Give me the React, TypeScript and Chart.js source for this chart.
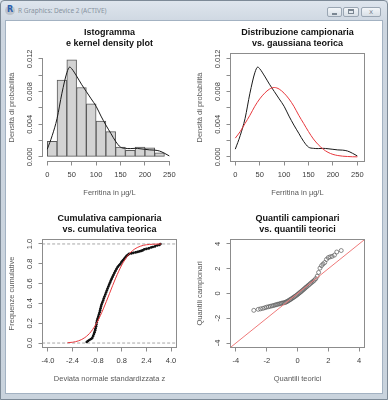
import React, { useEffect, useRef } from "react";
import { Chart, registerables } from "chart.js";

Chart.register(...registerables);

// ---------------- Data ----------------
// Panel 1: histogram of ferritin (density scale)
const histBreaks = [0, 20, 40, 60, 80, 100, 120, 140, 160, 180, 200, 220, 240];
const histDensity = [0.0019, 0.0094, 0.0119, 0.0085, 0.0065, 0.0044, 0.0031, 0.0012, 0.0008, 0.0012, 0.0011, 0.0005];

// Kernel density estimate (panels 1 and 2)
const kdeX = [0, 10, 20, 30, 40, 46, 50, 60, 70, 80, 90, 100, 110, 120, 130, 140, 150, 160, 170, 180, 190, 200, 210, 220, 230, 240, 250];
const kdeY = [0.00095, 0.0026, 0.0047, 0.0078, 0.0103, 0.011, 0.0108, 0.0099, 0.0089, 0.008, 0.0071, 0.0062, 0.005, 0.0039, 0.0029, 0.0019, 0.0012, 0.00105, 0.00102, 0.00105, 0.001, 0.00093, 0.00086, 0.00083, 0.00072, 0.00045, 0.00012];

// Theoretical gaussian density (panel 2, red)
const gaussX = [0, 10, 20, 30, 40, 50, 60, 70, 80, 90, 100, 110, 120, 130, 140, 150, 160, 170, 180, 190, 200, 210, 220, 230, 240, 250];
const gaussY = [0.0023, 0.0031, 0.0041, 0.0051, 0.0062, 0.0071, 0.0078, 0.0083, 0.0085, 0.0083, 0.0078, 0.0071, 0.0062, 0.0051, 0.0041, 0.0031, 0.0022, 0.0015, 0.00095, 0.00056, 0.00031, 0.00017, 0.00009, 0.00005, 0.00002, 0.00001];

const ferritinTicks = [0, 50, 100, 150, 200, 250];
const ferritinTickLabels = ["0", "50", "100", "150", "200", "250"];
const densTicks = [0, 0.002, 0.004, 0.006, 0.008, 0.01, 0.012];
const densTickLabels = ["0.000", "", "0.004", "", "0.008", "", "0.012"];

// Panel 3: empirical cumulative distribution of standardized values
const ecdfZ = [-1.48, -1.4, -1.3, -1.2, -1.12, -1.06, -1.01, -0.97, -0.93, -0.9, -0.87, -0.85, -0.83, -0.8, -0.76, -0.72, -0.68, -0.64, -0.61, -0.58, -0.55, -0.51, -0.46, -0.41, -0.37, -0.32, -0.27, -0.22, -0.17, -0.12, -0.07, -0.02, 0.04, 0.09, 0.15, 0.21, 0.27, 0.33, 0.4, 0.47, 0.55, 0.63, 0.72, 0.8, 0.88, 0.96, 1.04, 1.12, 1.2, 1.28, 1.42, 1.55, 1.7, 1.83, 1.95, 2.06, 2.15, 2.26, 2.4, 2.55, 2.7, 2.81, 2.95, 3.1, 3.24, 3.31];
const ecdfP = [0.01, 0.02, 0.03, 0.04, 0.05, 0.07, 0.09, 0.11, 0.13, 0.15, 0.17, 0.19, 0.21, 0.23, 0.25, 0.27, 0.29, 0.31, 0.33, 0.35, 0.37, 0.39, 0.41, 0.43, 0.45, 0.47, 0.49, 0.51, 0.53, 0.55, 0.57, 0.59, 0.61, 0.63, 0.65, 0.67, 0.69, 0.71, 0.73, 0.75, 0.77, 0.785, 0.8, 0.82, 0.835, 0.85, 0.865, 0.88, 0.89, 0.9, 0.905, 0.91, 0.915, 0.92, 0.925, 0.93, 0.935, 0.945, 0.95, 0.955, 0.965, 0.97, 0.975, 0.985, 0.99, 1.0];
// Theoretical cumulative (red)
const pnormZ = [-2.73, -2.4, -2.0, -1.6, -1.2, -0.8, -0.4, 0, 0.4, 0.8, 1.2, 1.6, 2.0, 2.4, 2.8, 3.35];
const pnormP = [0.003, 0.008, 0.023, 0.055, 0.115, 0.212, 0.345, 0.5, 0.655, 0.788, 0.885, 0.945, 0.977, 0.992, 0.997, 1.0];
const cumRefLevels = [0, 1];
const cumXTicks = [-4, -2.4, -0.8, 0.8, 2.4, 4];
const cumXTickLabels = ["-4.0", "-2.4", "-0.8", "0.8", "2.4", "4.0"];
const cumYTicks = [0, 0.2, 0.4, 0.6, 0.8, 1];
const cumYTickLabels = ["0.0", "0.2", "0.4", "0.6", "0.8", "1.0"];

// Panel 4: normal Q-Q plot
const qqTheo = [-2.84, -2.55, -2.4, -2.25, -2.12, -2.0, -1.88, -1.77, -1.66, -1.56, -1.46, -1.37, -1.28, -1.19, -1.1, -1.02, -0.94, -0.86, -0.78, -0.71, -0.64, -0.57, -0.5, -0.43, -0.36, -0.29, -0.22, -0.15, -0.08, -0.01, 0.06, 0.13, 0.2, 0.27, 0.34, 0.41, 0.48, 0.55, 0.62, 0.7, 0.78, 0.86, 0.94, 1.02, 1.1, 1.19, 1.28, 1.37, 1.46, 1.56, 1.66, 1.77, 1.88, 2.0, 2.12, 2.25, 2.4, 2.55, 2.84];
const qqSample = [-1.36, -1.28, -1.24, -1.2, -1.15, -1.1, -1.07, -1.03, -1.0, -0.97, -0.93, -0.9, -0.87, -0.84, -0.81, -0.78, -0.76, -0.74, -0.71, -0.67, -0.62, -0.57, -0.51, -0.46, -0.4, -0.34, -0.28, -0.22, -0.16, -0.09, -0.02, 0.05, 0.12, 0.19, 0.27, 0.34, 0.42, 0.5, 0.57, 0.66, 0.74, 0.83, 0.91, 0.99, 1.08, 1.2, 1.4, 1.7, 2.05, 2.25, 2.38, 2.5, 2.75, 2.9, 2.96, 3.0, 3.1, 3.35, 3.47];
const qqLineX = [-5, 5];
const qqLineY = [-5, 5];
const qqTicks = [-4, -2, 0, 2, 4];
const qqTickLabels = ["-4", "-2", "0", "2", "4"];

// axis limits (R's 4% extended ranges)
const ferritinMin = -8.8;
const ferritinMax = 263.7;
const densMin = -0.0005;
const densMax = 0.0126;
const zMin = -4.32;
const zMax = 4.32;
const pMin = -0.04;
const pMax = 1.04;

// ---------------- Styling / layout ----------------
const FONT = '"Liberation Sans", Arial, Helvetica, sans-serif';
const AX = "#8c8c8c";
const TXT = "#3a3a3a";
const LAB = "#5a5a5a";
const TICK_FS = 7.5;
const PANEL_W = 188;
const PANEL_H = 186;
const PLOT_LEFT = 37;
const PLOT_RIGHT_GAP = 18;
const XAXIS_H = 46;
const TICK_LEN = 4.5;
const LABEL_OFFSET = 13.5;

function widestLabel(labels: string[]): number {
  const ctx = document.createElement("canvas").getContext("2d");
  if (!ctx) return 0;
  ctx.font = `${TICK_FS}px ${FONT}`;
  return labels.reduce((m, l) => Math.max(m, ctx.measureText(l).width), 0);
}

function xAxis(min: number, max: number, ticks: number[], labels: string[], title: string) {
  return {
    type: "linear",
    position: "bottom",
    min,
    max,
    bounds: "data",
    offset: false,
    afterBuildTicks: (s: any) => {
      s.ticks = ticks.map((v) => ({ value: v }));
    },
    afterFit: (s: any) => {
      s.height = XAXIS_H;
      s.paddingLeft = 0;
      s.paddingRight = 0;
    },
    grid: { display: true, drawOnChartArea: false, drawTicks: true, tickLength: TICK_LEN, color: AX, lineWidth: 1, offset: false },
    border: { display: false },
    ticks: {
      autoSkip: false,
      maxRotation: 0,
      minRotation: 0,
      padding: 5,
      color: TXT,
      font: { family: FONT, size: TICK_FS },
      callback: (_v: any, i: number) => labels[i],
    },
    title: { display: true, text: title, color: LAB, font: { family: FONT, size: TICK_FS }, padding: { top: 0, bottom: 10 } },
  };
}

function yAxis(min: number, max: number, ticks: number[], labels: string[], title: string) {
  const widest = widestLabel(labels);
  return {
    type: "linear",
    position: "left",
    min,
    max,
    bounds: "data",
    afterBuildTicks: (s: any) => {
      s.ticks = ticks.map((v) => ({ value: v }));
    },
    afterFit: (s: any) => {
      s.width = PLOT_LEFT;
      s.paddingTop = 0;
      s.paddingBottom = 0;
    },
    grid: { display: true, drawOnChartArea: false, drawTicks: true, tickLength: TICK_LEN, color: AX, lineWidth: 1 },
    border: { display: false },
    ticks: {
      autoSkip: false,
      minRotation: 90,
      maxRotation: 90,
      crossAlign: "center",
      padding: LABEL_OFFSET - TICK_LEN - widest / 2,
      color: TXT,
      font: { family: FONT, size: TICK_FS },
      callback: (_v: any, i: number) => labels[i],
    },
    title: { display: true, text: title, color: LAB, font: { family: FONT, size: TICK_FS }, padding: { top: 1, bottom: 0 } },
  };
}

// R-like frame: full box, or axis lines spanning first to last tick
const rFrame = {
  id: "rFrame",
  afterDatasetsDraw(chart: any, _args: any, opts: any) {
    const { ctx, chartArea: a } = chart;
    ctx.save();
    ctx.strokeStyle = AX;
    ctx.lineWidth = 1;
    const x0 = Math.round(a.left) - 0.5;
    const y1 = Math.round(a.bottom) + 0.5;
    if (opts && opts.box) {
      const y0 = Math.round(a.top) - 0.5;
      const x1 = Math.round(a.right) + 0.5;
      ctx.strokeRect(x0, y0, x1 - x0, y1 - y0);
    } else {
      const xs = chart.scales.x;
      const ys = chart.scales.y;
      const xt = xs.ticks;
      const yt = ys.ticks;
      ctx.beginPath();
      ctx.moveTo(xs.getPixelForValue(xt[0].value), y1);
      ctx.lineTo(xs.getPixelForValue(xt[xt.length - 1].value), y1);
      ctx.moveTo(x0, ys.getPixelForValue(yt[0].value));
      ctx.lineTo(x0, ys.getPixelForValue(yt[yt.length - 1].value));
      ctx.stroke();
    }
    ctx.restore();
  },
};

function baseOptions(title: string[], x: any, y: any, box: boolean) {
  return {
    responsive: false,
    maintainAspectRatio: false,
    animation: false,
    devicePixelRatio: 1,
    events: [],
    layout: { padding: { left: 0, right: PLOT_RIGHT_GAP, top: 0, bottom: 0 } },
    scales: { x, y },
    plugins: {
      legend: { display: false },
      tooltip: { enabled: false },
      title: {
        display: true,
        text: title,
        fullSize: false,
        color: "#111111",
        font: { family: FONT, size: 9, weight: "bold", lineHeight: "11px" },
        padding: { top: 6.5, bottom: 4.5 },
      },
      rFrame: { box },
    },
  };
}

const pts = (xs: number[], ys: number[]) => xs.map((x, i) => ({ x, y: ys[i] }));

function histConfig() {
  const bars = histDensity.map((d, i) => ({ x: (histBreaks[i] + histBreaks[i + 1]) / 2, y: d }));
  return {
    type: "bar",
    data: {
      datasets: [
        { type: "line", data: pts(kdeX, kdeY), borderColor: "#1a1a1a", borderWidth: 1, pointRadius: 0, cubicInterpolationMode: "monotone", fill: false },
        { type: "bar", data: bars, backgroundColor: "#d3d3d3", borderColor: "#5a5a5a", borderWidth: 1, borderSkipped: false, barPercentage: 1, categoryPercentage: 1, grouped: false },
      ],
    },
    options: baseOptions(
      ["Istogramma", "e kernel density plot"],
      xAxis(ferritinMin, ferritinMax, ferritinTicks, ferritinTickLabels, "Ferritina in µg/L"),
      yAxis(densMin, densMax, densTicks, densTickLabels, "Densità di probabilità"),
      false
    ),
    plugins: [rFrame],
  };
}

function gaussConfig() {
  return {
    type: "line",
    data: {
      datasets: [
        { data: pts(gaussX, gaussY), borderColor: "#e8383d", borderWidth: 1, pointRadius: 0, cubicInterpolationMode: "monotone", fill: false },
        { data: pts(kdeX, kdeY), borderColor: "#1a1a1a", borderWidth: 1, pointRadius: 0, cubicInterpolationMode: "monotone", fill: false },
      ],
    },
    options: baseOptions(
      ["Distribuzione campionaria", "vs. gaussiana teorica"],
      xAxis(ferritinMin, ferritinMax, ferritinTicks, ferritinTickLabels, "Ferritina in µg/L"),
      yAxis(densMin, densMax, densTicks, densTickLabels, "Densità di probabilità"),
      true
    ),
    plugins: [rFrame],
  };
}

function cumConfig() {
  const refLines = cumRefLevels.map((lvl) => ({
    data: [
      { x: -6, y: lvl },
      { x: 6, y: lvl },
    ],
    borderColor: "#a8a8a8",
    borderWidth: 1,
    borderDash: [3, 2],
    pointRadius: 0,
    fill: false,
  }));
  return {
    type: "line",
    data: {
      datasets: [
        { data: pts(pnormZ, pnormP), borderColor: "#e8383d", borderWidth: 1, pointRadius: 0, cubicInterpolationMode: "monotone", fill: false },
        { data: pts(ecdfZ, ecdfP), borderColor: "#111111", borderWidth: 1, stepped: "after", pointRadius: 1.3, pointBorderWidth: 0, pointBackgroundColor: "#111111", fill: false },
        ...refLines,
      ],
    },
    options: baseOptions(
      ["Cumulativa campionaria", "vs. cumulativa teorica"],
      xAxis(zMin, zMax, cumXTicks, cumXTickLabels, "Deviata normale standardizzata z"),
      yAxis(pMin, pMax, cumYTicks, cumYTickLabels, "Frequenze cumulative"),
      true
    ),
    plugins: [rFrame],
  };
}

function qqConfig() {
  return {
    type: "line",
    data: {
      datasets: [
        { data: pts(qqLineX, qqLineY), borderColor: "#ef7a7a", borderWidth: 1, pointRadius: 0, fill: false },
        { data: pts(qqTheo, qqSample), showLine: false, pointRadius: 2, pointBorderWidth: 0.7, pointBorderColor: "#5a5a5a", pointBackgroundColor: "rgba(0,0,0,0)", fill: false },
      ],
    },
    options: baseOptions(
      ["Quantili campionari", "vs. quantili teorici"],
      xAxis(zMin, zMax, qqTicks, qqTickLabels, "Quantili teorici"),
      yAxis(zMin, zMax, qqTicks, qqTickLabels, "Quantili campionari"),
      true
    ),
    plugins: [rFrame],
  };
}

function ChartPanel({ build, left, top }: { build: () => any; left: number; top: number }) {
  const ref = useRef<HTMLCanvasElement>(null);
  useEffect(() => {
    if (!ref.current) return;
    const chart = new Chart(ref.current, build());
    return () => chart.destroy();
  }, [build]);
  return (
    <canvas
      ref={ref}
      width={PANEL_W}
      height={PANEL_H}
      style={{ position: "absolute", left, top, width: PANEL_W, height: PANEL_H }}
    />
  );
}

const btn = (left: number, width: number): React.CSSProperties => ({
  position: "absolute",
  left,
  top: 7,
  width,
  height: 10,
  boxSizing: "border-box",
  border: "1px solid #9aa6b3",
  borderRadius: 2,
  background: "linear-gradient(#f3f6f9, #d8dfe6)",
});

export default function App() {
  return (
    <div
      style={{
        position: "absolute",
        left: 0,
        top: 0,
        width: 388,
        height: 400,
        overflow: "hidden",
        background: "linear-gradient(#dfe6ee, #cdd6e0 24px, #c9d3dd)",
      }}
    >
      <div style={{ position: "absolute", left: 0, top: 0, width: 388, height: 400, boxSizing: "border-box", border: "1px solid #7d8a97", borderRadius: "4px 4px 0 0" }} />
      {/* window icon and caption */}
      <div style={{ position: "absolute", left: 5, top: 6, width: 10, height: 9, borderRadius: "50%", background: "#bcc3cb" }} />
      <div style={{ position: "absolute", left: 7, top: 5, fontFamily: '"DejaVu Sans"', fontWeight: "bold", fontSize: 8, lineHeight: "10px", color: "#2b5fae" }}>R</div>
      <div style={{ position: "absolute", left: 18, top: 6, fontFamily: '"Noto Sans"', fontSize: 6.5, lineHeight: "10px", color: "#8793a0", whiteSpace: "nowrap" }}>
        R Graphics: Device 2 (ACTIVE)
      </div>
      {/* caption buttons */}
      <div style={btn(327, 15)}>
        <div style={{ position: "absolute", left: 4, top: 5, width: 5, height: 2, background: "#7a8692" }} />
      </div>
      <div style={btn(343, 16)}>
        <div style={{ position: "absolute", left: 4, top: 1, width: 6, height: 5, boxSizing: "border-box", border: "1px solid #7a8692", borderTopWidth: 2 }} />
      </div>
      <div style={btn(361, 20)}>
        <div style={{ position: "absolute", left: 0, top: 0, width: 18, textAlign: "center", fontFamily: '"DejaVu Sans"', fontSize: 7, lineHeight: "8px", color: "#7a8692" }}>x</div>
      </div>
      {/* client area */}
      <div style={{ position: "absolute", left: 5, top: 20, width: 378, height: 374, boxSizing: "border-box", border: "1px solid #a3b2c2", background: "#ffffff" }} />
      <ChartPanel build={histConfig} left={6} top={21} />
      <ChartPanel build={gaussConfig} left={194} top={21} />
      <ChartPanel build={cumConfig} left={6} top={207} />
      <ChartPanel build={qqConfig} left={194} top={207} />
    </div>
  );
}
